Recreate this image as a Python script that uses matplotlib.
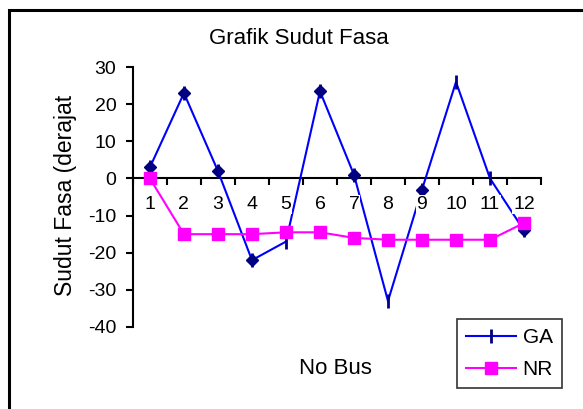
import matplotlib
matplotlib.use('Agg')
import matplotlib.pyplot as plt
from matplotlib.patches import Rectangle
import numpy as np

plt.rcParams['font.family'] = ['Liberation Sans', 'DejaVu Sans']

# Data
bus = [1, 2, 3, 4, 5, 6, 7, 8, 9, 10, 11, 12]
ga = [3, 23, 2, -22, -17, 23.5, 1, -33, -3, 26, 0, -14]
nr = [0, -15, -15, -15, -14.5, -14.5, -16, -16.5, -16.5, -16.5, -16.5, -12]
ga_diamond_bus = [1, 2, 3, 4, 6, 7, 9, 12]   # points that Excel drew with a diamond
y_ticks = [30, 20, 10, 0, -10, -20, -30, -40]


def main():
    fig = plt.figure(figsize=(5.83, 4.09), dpi=100)
    ax = fig.add_axes([0.228, 0.2005, 0.7, 0.6355])

    # outer chart border (only left and top are visible)
    fig.patches.append(Rectangle((9/583, -0.1), 1.2, 1 - 10/409 + 0.1,
                                 transform=fig.transFigure, fill=False,
                                 edgecolor='black', linewidth=2.2))

    # GA series
    ax.plot(bus, ga, color='#0000FF', linewidth=1.5, marker='|',
            markersize=10, markeredgewidth=2, markeredgecolor='#000080',
            label='GA', zorder=3)
    dy = [ga[bus.index(b)] for b in ga_diamond_bus]
    ax.plot(ga_diamond_bus, dy, linestyle='none', marker='D', markersize=6.5,
            color='#000080', zorder=4)

    # NR series
    ax.plot(bus, nr, color='#FF00FF', linewidth=1.5, marker='s',
            markersize=9, label='NR', zorder=5)

    ax.set_xlim(0.5, 12.5)
    ax.set_ylim(-40, 30)
    ax.set_yticks(y_ticks)
    ax.set_yticklabels([str(v) for v in y_ticks], fontsize=14)
    ax.tick_params(axis='y', direction='out', length=5, width=1.5, pad=7)

    ax.spines['top'].set_visible(False)
    ax.spines['right'].set_visible(False)
    ax.spines['left'].set_linewidth(1.5)
    ax.spines['bottom'].set_position(('data', 0))
    ax.spines['bottom'].set_linewidth(1.5)

    # ticks between categories, labels drawn as text with white background
    ax.set_xticks(np.arange(0.5, 13, 1))
    ax.set_xticklabels([])
    ax.tick_params(axis='x', direction='out', length=5, width=1.5)
    for b in bus:
        ax.text(b, -7.0, str(b), ha='center', va='center', fontsize=14,
                bbox=dict(facecolor='white', edgecolor='none', pad=0.5),
                zorder=6)

    fig.text(0.513, 0.892, 'Grafik Sudut Fasa', ha='center', va='baseline',
             fontsize=16)
    fig.text(0.112, 0.521, 'Sudut Fasa (derajat', ha='center', va='center',
             rotation=90, fontsize=16.5)
    fig.text(0.575, 0.0856, 'No Bus', ha='center', va='baseline', fontsize=16)

    leg = fig.legend(loc='upper left', bbox_to_anchor=(457/583, 1 - 319/409),
                     fontsize=15, frameon=True, fancybox=False,
                     edgecolor='black', borderpad=0.45, handlelength=2.4,
                     handletextpad=0.3, labelspacing=0.6, borderaxespad=0)
    leg.get_frame().set_linewidth(1.2)

    fig.savefig('out.png', dpi=100, facecolor='white')


if __name__ == '__main__':
    main()
